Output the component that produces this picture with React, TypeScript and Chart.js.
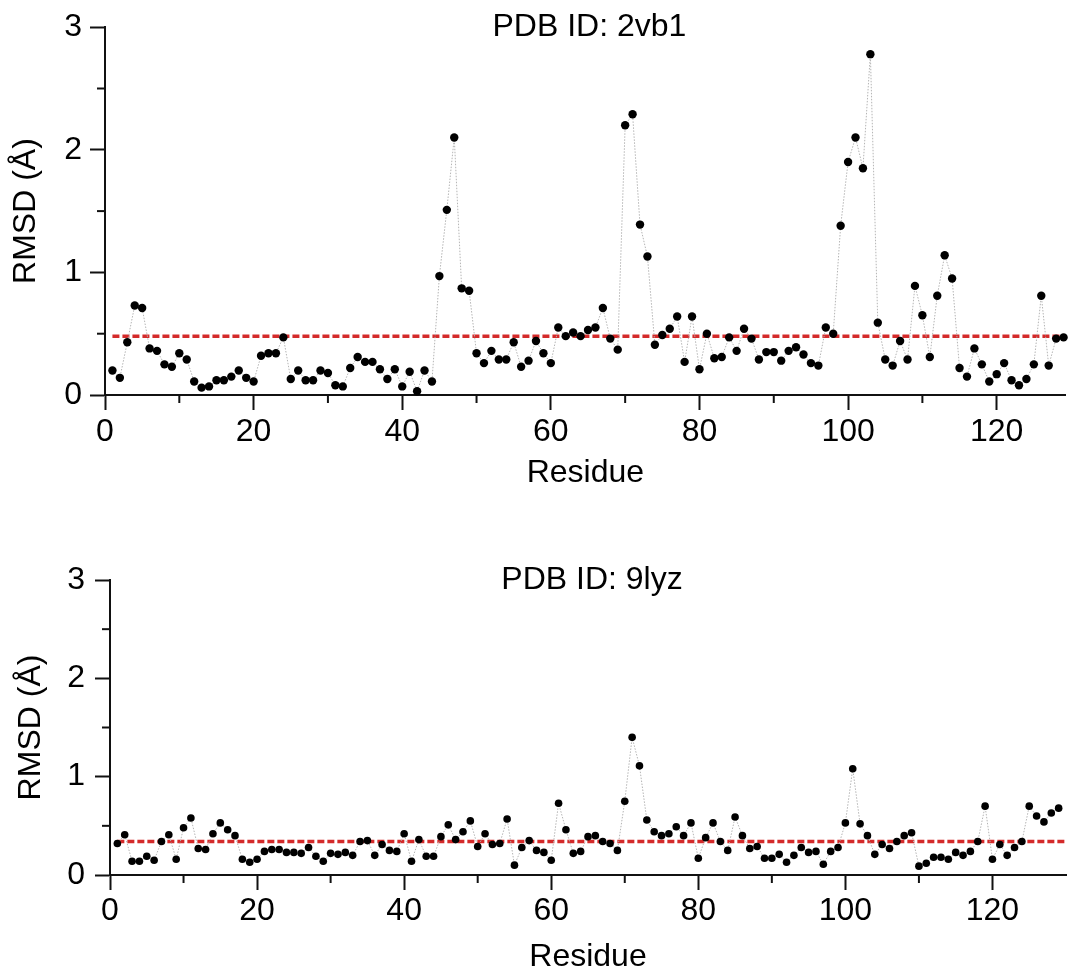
import React, { useEffect, useRef } from "react";
import { Chart, registerables } from "chart.js";

Chart.register(...registerables);

// ---- Data ----
const rmsd2vb1: number[] = [
  0.20, 0.14, 0.43, 0.73, 0.71, 0.38, 0.36, 0.25, 0.23, 0.34,
  0.29, 0.11, 0.06, 0.07, 0.12, 0.12, 0.15, 0.20, 0.14, 0.11,
  0.32, 0.34, 0.34, 0.47, 0.13, 0.20, 0.12, 0.12, 0.20, 0.18,
  0.08, 0.07, 0.22, 0.31, 0.27, 0.27, 0.21, 0.13, 0.21, 0.07,
  0.19, 0.03, 0.20, 0.11, 0.97, 1.51, 2.10, 0.87, 0.85, 0.34,
  0.26, 0.36, 0.29, 0.29, 0.43, 0.23, 0.28, 0.44, 0.34, 0.26,
  0.55, 0.48, 0.51, 0.48, 0.53, 0.55, 0.71, 0.46, 0.37, 2.20,
  2.29, 1.39, 1.13, 0.41, 0.49, 0.54, 0.64, 0.27, 0.64, 0.21,
  0.50, 0.30, 0.31, 0.47, 0.36, 0.54, 0.46, 0.29, 0.35, 0.35,
  0.28, 0.36, 0.39, 0.33, 0.26, 0.24, 0.55, 0.50, 1.38, 1.90,
  2.10, 1.85, 2.78, 0.59, 0.29, 0.24, 0.44, 0.29, 0.89, 0.65,
  0.31, 0.81, 1.14, 0.95, 0.22, 0.15, 0.38, 0.25, 0.11, 0.17,
  0.26, 0.12, 0.08, 0.13, 0.25, 0.81, 0.24, 0.46, 0.47,
];

const rmsd9lyz: number[] = [
  0.32, 0.41, 0.14, 0.14, 0.19, 0.15, 0.34, 0.41, 0.16, 0.48,
  0.58, 0.27, 0.26, 0.42, 0.53, 0.46, 0.40, 0.16, 0.13, 0.16,
  0.24, 0.26, 0.26, 0.23, 0.23, 0.22, 0.28, 0.19, 0.14, 0.22,
  0.21, 0.23, 0.20, 0.34, 0.35, 0.20, 0.31, 0.25, 0.24, 0.42,
  0.14, 0.36, 0.19, 0.19, 0.39, 0.51, 0.36, 0.44, 0.55, 0.29,
  0.42, 0.31, 0.32, 0.57, 0.10, 0.28, 0.35, 0.25, 0.23, 0.15,
  0.73, 0.46, 0.22, 0.24, 0.39, 0.40, 0.34, 0.32, 0.25, 0.75,
  1.40, 1.11, 0.56, 0.44, 0.40, 0.42, 0.49, 0.40, 0.53, 0.17,
  0.38, 0.53, 0.34, 0.25, 0.59, 0.40, 0.27, 0.29, 0.17, 0.17,
  0.21, 0.13, 0.20, 0.28, 0.23, 0.24, 0.11, 0.24, 0.28, 0.53,
  1.08, 0.52, 0.40, 0.21, 0.31, 0.27, 0.34, 0.40, 0.43, 0.09,
  0.12, 0.18, 0.18, 0.16, 0.23, 0.20, 0.24, 0.34, 0.70, 0.16,
  0.31, 0.20, 0.28, 0.34, 0.70, 0.60, 0.54, 0.63, 0.68,
];

const mean2vb1 = 0.48;
const mean9lyz = 0.34;

const xMajorTicks = [0, 20, 40, 60, 80, 100, 120];
const xMinorTicks = [10, 30, 50, 70, 90, 110];
const yMajorTicks = [0, 1, 2, 3];
const yMinorTicks = [0.5, 1.5, 2.5];

const FONT = '"Liberation Sans", Arial, sans-serif';
const FONT_SIZE = 32;

type PanelProps = {
  title: string;
  values: number[];
  mean: number;
  height: number;
  xMax: number;
  left: number;
  top: number;
  bottom: number;
  yTitlePad: number;
  yTickPad: number;
  xTickPad: number;
  xTitlePad: number;
  pointRadius: number;
};

const decorPlugin = {
  id: "decor",
  afterDraw(chart: any, _args: any, opts: any) {
    const { ctx, chartArea, scales } = chart;
    ctx.save();
    ctx.strokeStyle = "#111";
    ctx.lineWidth = 2;
    for (const v of yMinorTicks) {
      const y = scales.y.getPixelForValue(v);
      ctx.beginPath();
      ctx.moveTo(chartArea.left - 8, y);
      ctx.lineTo(chartArea.left, y);
      ctx.stroke();
    }
    for (const v of xMinorTicks) {
      const x = scales.x.getPixelForValue(v);
      ctx.beginPath();
      ctx.moveTo(x, chartArea.bottom);
      ctx.lineTo(x, chartArea.bottom + 8);
      ctx.stroke();
    }
    ctx.fillStyle = "#000";
    ctx.font = `${FONT_SIZE}px ${FONT}`;
    ctx.textAlign = "center";
    ctx.textBaseline = "middle";
    ctx.fillText(opts.title, (chartArea.left + chartArea.right) / 2 + 4, chartArea.top);
    ctx.restore();
  },
};

function Panel(props: PanelProps) {
  const ref = useRef<HTMLCanvasElement | null>(null);
  useEffect(() => {
    if (!ref.current) return;
    const points = props.values.map((v, i) => ({ x: i + 1, y: v }));
    const chart = new Chart(ref.current, {
      type: "line",
      data: {
        datasets: [
          {
            data: points,
            borderColor: "#b4b4b4",
            borderWidth: 1,
            borderDash: [1.5, 1.5],
            pointRadius: props.pointRadius,
            pointBackgroundColor: "#000",
            pointBorderColor: "#000",
            pointBorderWidth: 0,
            tension: 0,
            clip: false as any,
          },
          {
            data: [
              { x: 1, y: props.mean },
              { x: props.xMax, y: props.mean },
            ],
            borderColor: "#d42a2a",
            borderWidth: 3.5,
            borderDash: [7, 3],
            pointRadius: 0,
          },
        ],
      },
      options: {
        responsive: false,
        animation: false,
        devicePixelRatio: 1,
        layout: { padding: { left: 0, right: 0, top: props.top, bottom: 0 } },
        plugins: {
          legend: { display: false },
          tooltip: { enabled: false },
          decor: { title: props.title },
        } as any,
        scales: {
          x: {
            type: "linear",
            min: 0,
            max: props.xMax,
            afterBuildTicks: (s: any) => {
              s.ticks = xMajorTicks.map((v) => ({ value: v }));
            },
            afterFit: (s: any) => {
              s.height = props.height - props.bottom;
            },
            ticks: {
              includeBounds: false,
              maxRotation: 0,
              autoSkip: false,
              padding: props.xTickPad,
              color: "#000",
              font: { family: FONT, size: FONT_SIZE },
            },
            grid: {
              drawOnChartArea: false,
              drawTicks: true,
              tickLength: 15,
              tickWidth: 2,
              color: "#111",
            },
            border: { display: true, color: "#111", width: 2 },
            title: {
              display: true,
              text: "Residue",
              color: "#000",
              font: { family: FONT, size: FONT_SIZE },
              padding: { top: 0, bottom: props.xTitlePad },
            },
          },
          y: {
            type: "linear",
            min: 0,
            max: 3,
            afterBuildTicks: (s: any) => {
              s.ticks = yMajorTicks.map((v) => ({ value: v }));
            },
            afterFit: (s: any) => {
              s.width = props.left;
            },
            ticks: {
              padding: props.yTickPad,
              color: "#000",
              font: { family: FONT, size: FONT_SIZE },
            },
            grid: {
              drawOnChartArea: false,
              drawTicks: true,
              tickLength: 15,
              tickWidth: 2,
              color: "#111",
            },
            border: { display: true, color: "#111", width: 2 },
            title: {
              display: true,
              text: "RMSD (Å)",
              color: "#000",
              font: { family: FONT, size: FONT_SIZE },
              padding: { top: props.yTitlePad, bottom: 0 },
            },
          },
        },
      },
      plugins: [decorPlugin],
    });
    return () => chart.destroy();
  }, []);
  return (
    <canvas
      ref={ref}
      width={1070}
      height={props.height}
      style={{ display: "block", width: 1070, height: props.height }}
    />
  );
}

export default function App() {
  return (
    <div
      style={{
        position: "absolute",
        left: 0,
        top: 0,
        width: 1070,
        height: 976,
        background: "#fff",
      }}
    >
      <Panel
        title="PDB ID: 2vb1"
        values={rmsd2vb1}
        mean={mean2vb1}
        height={500}
        xMax={129.3}
        left={105}
        top={26}
        bottom={395}
        yTitlePad={7}
        yTickPad={8}
        xTickPad={3}
        xTitlePad={8}
        pointRadius={4.2}
      />
      <Panel
        title="PDB ID: 9lyz"
        values={rmsd9lyz}
        mean={mean9lyz}
        height={476}
        xMax={130}
        left={110}
        top={80}
        bottom={375}
        yTitlePad={12}
        yTickPad={10}
        xTickPad={2}
        xTitlePad={0}
        pointRadius={3.8}
      />
    </div>
  );
}
